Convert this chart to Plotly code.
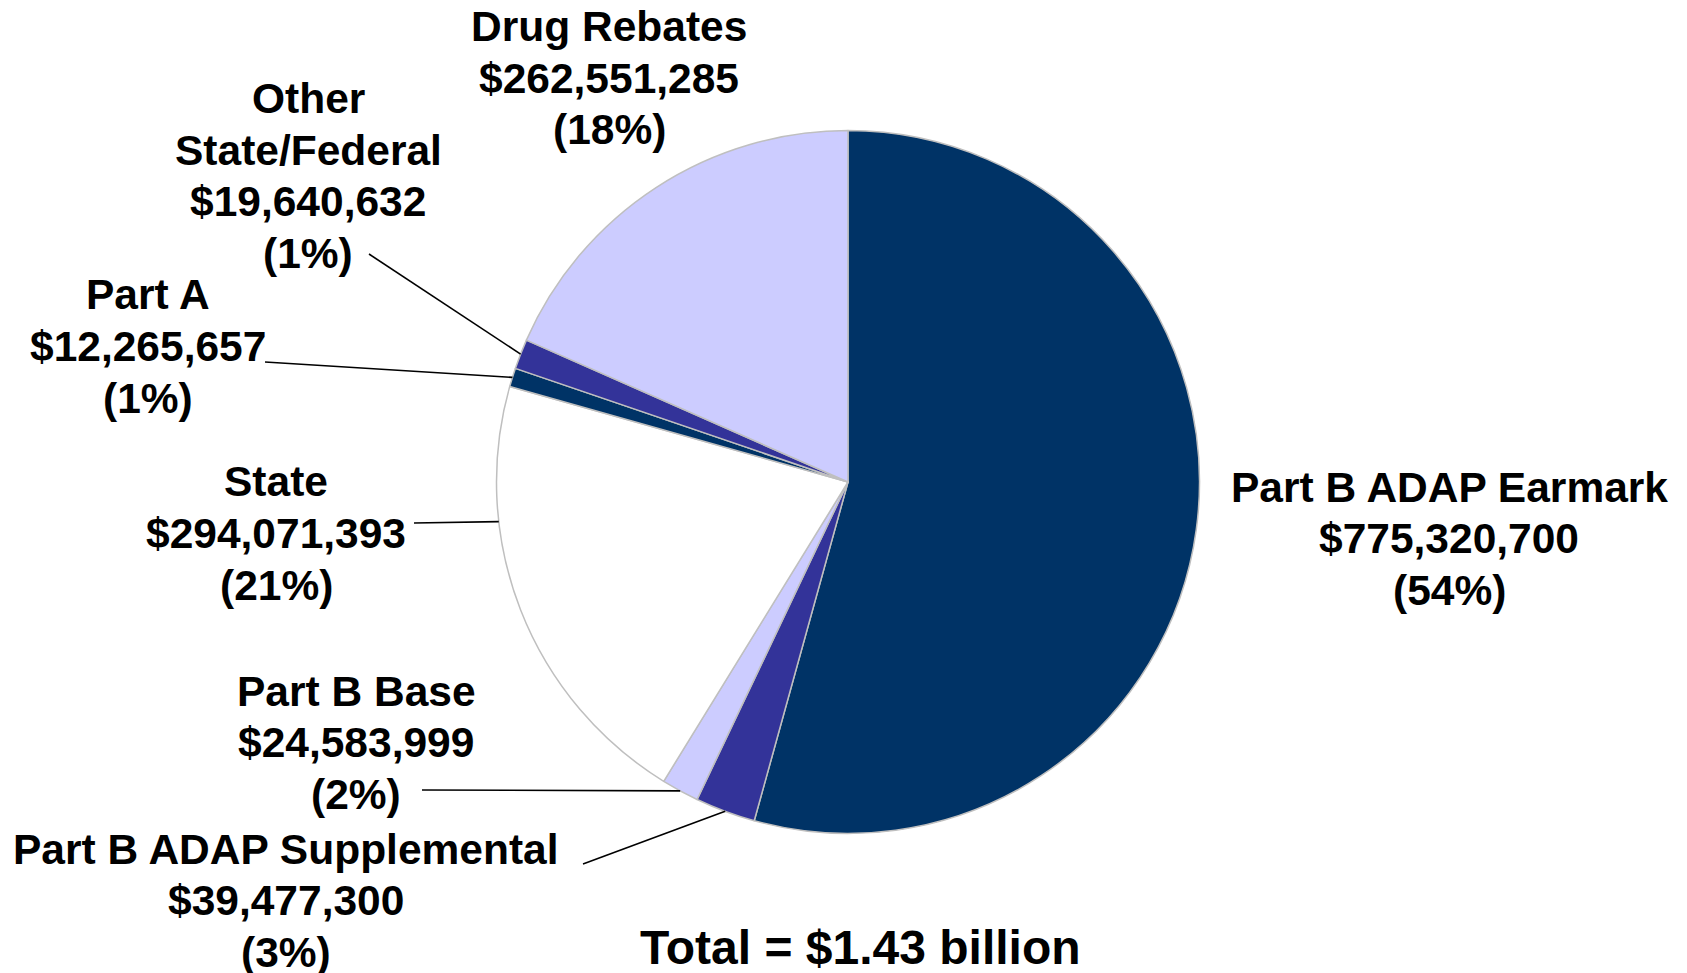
import math
import plotly.graph_objects as go

# ADAP budget by funding source, drawn clockwise from 12 o'clock
categories = [
    "Part B ADAP Earmark",
    "Part B ADAP Supplemental",
    "Part B Base",
    "State",
    "Part A",
    "Other State/Federal",
    "Drug Rebates",
]
amounts = [775320700, 39477300, 24583999, 294071393, 12265657, 19640632, 262551285]
slice_colors = ["#003366", "#333399", "#CCCCFF", "#FFFFFF", "#003366", "#333399", "#CCCCFF"]

# how each category name is broken over lines in its label
name_lines = {
    "Part B ADAP Earmark": ["Part B ADAP Earmark"],
    "Part B ADAP Supplemental": ["Part B ADAP Supplemental"],
    "Part B Base": ["Part B Base"],
    "State": ["State"],
    "Part A": ["Part A"],
    "Other State/Federal": ["Other", "State/Federal"],
    "Drug Rebates": ["Drug Rebates"],
}

W, H = 1687, 973
CX, CY, R = 848, 482, 351.5          # pie centre and radius in pixels
FONT = "Liberation Sans, Arial, sans-serif"
LINE_GAP = 51.5

# label block placement: (centre x, first line y) in pixels
label_pos = {
    "Part B ADAP Earmark": (1449, 487),
    "Part B ADAP Supplemental": (286, 849),
    "Part B Base": (356, 691),
    "State": (276, 482),
    "Part A": (148, 295),
    "Other State/Federal": (308, 99),
    "Drug Rebates": (609, 27),
}
# leader lines: label-side start point and position inside the slice (0..1)
leaders = {
    "Part B ADAP Supplemental": ((583, 864), 0.5),
    "Part B Base": ((422, 790), 0.5),
    "State": ((414, 523), 0.70),
    "Part A": ((265, 362), 0.5),
    "Other State/Federal": ((369, 254), 0.5),
}

total = sum(amounts)


def px(x):
    return x / W


def py(y):
    return 1 - y / H


fig = go.Figure(
    go.Pie(
        labels=categories,
        values=amounts,
        sort=False,
        direction="clockwise",
        rotation=0,
        marker=dict(colors=slice_colors, line=dict(color="#BFBFBF", width=1.5)),
        textinfo="none",
        hoverinfo="label+value+percent",
        showlegend=False,
        domain=dict(x=[px(CX - R), px(CX + R)], y=[py(CY + R), py(CY - R)]),
    )
)

annotations = []
shapes = []
cum = 0
for name, val in zip(categories, amounts):
    lines = name_lines[name] + [f"${val:,}", f"({round(100 * val / total)}%)"]
    x0, y0 = label_pos[name]
    for i, t in enumerate(lines):
        annotations.append(dict(
            x=px(x0), y=py(y0 + i * LINE_GAP), xref="paper", yref="paper",
            text=f"<b>{t}</b>", showarrow=False, xanchor="center", yanchor="middle",
            font=dict(family=FONT, size=42.5, color="#000000"),
        ))
    if name in leaders:
        (lx, ly), frac = leaders[name]
        theta = 2 * math.pi * (cum + frac * val) / total
        ex = CX + R * math.sin(theta)
        ey = CY - R * math.cos(theta)
        shapes.append(dict(
            type="line", xref="paper", yref="paper",
            x0=px(lx), y0=py(ly), x1=px(ex), y1=py(ey),
            line=dict(color="#000000", width=1.6),
        ))
    cum += val

annotations.append(dict(
    x=px(861), y=py(947), xref="paper", yref="paper",
    text=f"<b>Total = ${total / 1e9:.2f} billion</b>", showarrow=False,
    xanchor="center", yanchor="middle",
    font=dict(family=FONT, size=48, color="#000000"),
))

fig.update_layout(
    width=W, height=H,
    margin=dict(l=0, r=0, t=0, b=0),
    paper_bgcolor="#FFFFFF", plot_bgcolor="#FFFFFF",
    annotations=annotations, shapes=shapes,
)

fig.write_html("out.html")
